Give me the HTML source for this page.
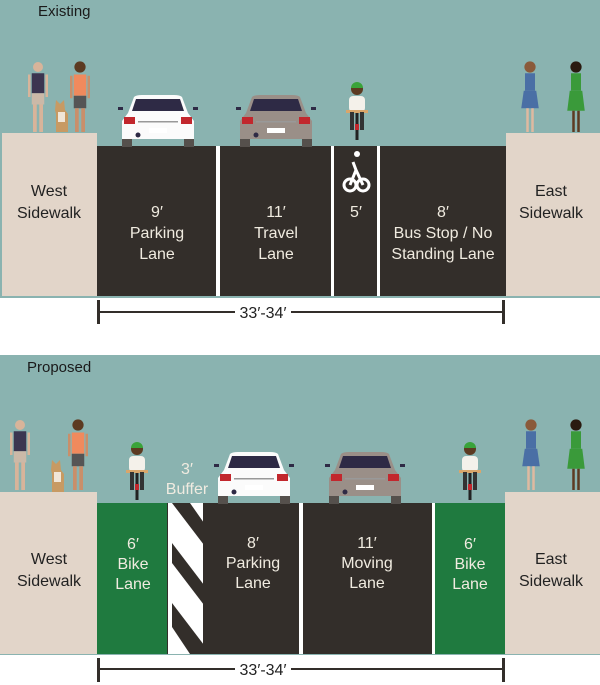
<!DOCTYPE html>
<html><head><style>
html,body{margin:0;padding:0;background:#fff;width:600px;height:685px;overflow:hidden}
svg{display:block}
text{font-family:"Liberation Sans",sans-serif}
</style></head><body>
<svg width="600" height="685" viewBox="0 0 600 685" xmlns="http://www.w3.org/2000/svg">
<defs>
<g id="car">
  <rect x="0" y="42" width="10" height="10" fill="#55504c"/>
  <rect x="62" y="42" width="10" height="10" fill="#55504c"/>
  <path d="M12 2 Q14 0 20 0 L52 0 Q58 0 60 2 L66 18 L72 26 L72 44 L0 44 L0 26 L6 18 Z"/>
  <path d="M14 4 L58 4 L62 16 L10 16 Z" fill="#2e2a45"/>
  <rect x="-4" y="12" width="5" height="3" fill="#2e2a45"/>
  <rect x="71" y="12" width="5" height="3" fill="#2e2a45"/>
  <rect x="2" y="22" width="11" height="7" fill="#c2272d"/>
  <rect x="59" y="22" width="11" height="7" fill="#c2272d"/>
  <rect x="16" y="26" width="40" height="1.5" fill="#999"/>
  <rect x="27" y="33" width="18" height="5" fill="#fff"/>
  <circle cx="16" cy="40" r="2.5" fill="#2e2a45"/>
</g>
<g id="cyc">
  <rect x="-1.5" y="30" width="3" height="28" fill="#222"/>
  <rect x="-8" y="14" width="16" height="16" rx="4" fill="#f4f1ea"/>
  <rect x="-11" y="28" width="22" height="3" fill="#d9a66b"/>
  <rect x="-7" y="30" width="4" height="18" fill="#333"/>
  <rect x="3" y="30" width="4" height="18" fill="#333"/>
  <circle cx="0" cy="7" r="6" fill="#5c3a21"/>
  <path d="M-6 6 A6 6 0 0 1 6 6 Z" fill="#3aa33a"/>
  <rect x="-2" y="42" width="4" height="6" fill="#c2272d"/>
</g>
<g id="walker1">
  <circle cx="0" cy="4" r="4" fill="#d8b49a"/>
  <rect x="-5" y="9" width="10" height="16" fill="#3c3550"/>
  <rect x="-5" y="25" width="10" height="9" fill="#cbb9a8"/>
  <rect x="-4" y="34" width="3" height="22" fill="#d8b49a"/>
  <rect x="1" y="34" width="3" height="22" fill="#d8b49a"/>
  <rect x="-8" y="10" width="2" height="18" fill="#d8b49a"/>
  <rect x="6" y="10" width="2" height="18" fill="#d8b49a"/>
</g>
<g id="walker2">
  <circle cx="0" cy="4" r="4.5" fill="#5c3a21"/>
  <rect x="-5" y="10" width="10" height="17" fill="#f08a5d"/>
  <rect x="-5" y="27" width="10" height="10" fill="#555"/>
  <rect x="-4" y="37" width="3" height="19" fill="#c98f6a"/>
  <rect x="1" y="37" width="3" height="19" fill="#c98f6a"/>
  <rect x="-8" y="11" width="2" height="18" fill="#c98f6a"/>
  <rect x="6" y="11" width="2" height="18" fill="#c98f6a"/>
</g>
<g id="dog">
  <path d="M0 0 L4 4 L8 0 L9 10 L12 14 L12 32 L0 32 L0 14 L-1 10 Z" fill="#c79a63"/>
  <rect x="2" y="12" width="7" height="10" fill="#f0e6d8"/>
</g>
<g id="woman1">
  <circle cx="0" cy="4" r="4.5" fill="#8a5a3a"/>
  <rect x="-4" y="9" width="8" height="14" fill="#4a6fa5"/>
  <path d="M-5 23 L5 23 L7 37 L-7 37 Z" fill="#4a6fa5"/>
  <rect x="-3" y="37" width="2" height="19" fill="#e0b9a0"/>
  <rect x="1" y="37" width="2" height="19" fill="#e0b9a0"/>
</g>
<g id="woman2">
  <circle cx="0" cy="4" r="4.5" fill="#2a1a10"/>
  <rect x="-4" y="9" width="8" height="14" fill="#3a9a3a"/>
  <path d="M-5 23 L5 23 L7 39 L-7 39 Z" fill="#3a9a3a"/>
  <rect x="-3" y="39" width="2" height="17" fill="#5c3a21"/>
  <rect x="1" y="39" width="2" height="17" fill="#5c3a21"/>
</g>
</defs>

<!-- TOP PANEL -->
<rect x="0" y="0" width="600" height="298" fill="#8ab3b0"/>
<text x="38" y="16" font-size="15" fill="#1a1a1a">Existing</text>
<rect x="2" y="133" width="95" height="163" fill="#e2d5c9"/>
<rect x="506" y="133" width="94" height="163" fill="#e2d5c9"/>
<rect x="97" y="146" width="409" height="150" fill="#332e2a"/>
<rect x="216" y="146" width="4" height="150" fill="#fff"/>
<rect x="331" y="146" width="3" height="150" fill="#fff"/>
<rect x="377" y="146" width="3" height="150" fill="#fff"/>
<!-- bike symbol -->
<g fill="none" stroke="#fff" stroke-width="3">
<circle cx="350" cy="185" r="6"/><circle cx="363" cy="185" r="6"/>
<path d="M350 185 L356 170 L363 185 M356 170 L353 162"/>
</g>
<circle cx="357" cy="154" r="3" fill="#fff"/>
<use href="#car" x="122" y="95" fill="#fbfbfb"/>
<use href="#car" x="240" y="95" fill="#9a8f88"/>
<use href="#cyc" x="357" y="82"/>
<g transform="translate(38,62) scale(1.25)"><use href="#walker1"/></g>
<g transform="translate(80,62) scale(1.25)"><use href="#walker2"/></g>
<use href="#dog" x="56" y="100"/>
<g transform="translate(530,62) scale(1.25)"><use href="#woman1"/></g>
<g transform="translate(576,62) scale(1.25)"><use href="#woman2"/></g>
<g font-size="16" fill="#f0ebe0" text-anchor="middle">
<text x="49" y="196" fill="#222">West</text><text x="49" y="218" fill="#222">Sidewalk</text>
<text x="551" y="196" fill="#222">East</text><text x="551" y="218" fill="#222">Sidewalk</text>
<text x="157" y="217">9′</text><text x="157" y="238">Parking</text><text x="157" y="259">Lane</text>
<text x="276" y="217">11′</text><text x="276" y="238">Travel</text><text x="276" y="259">Lane</text>
<text x="356" y="217">5′</text>
<text x="443" y="217">8′</text><text x="443" y="238">Bus Stop / No</text><text x="443" y="259">Standing Lane</text>
</g>
<!-- dimension top -->
<rect x="97" y="300" width="3" height="24" fill="#332e2a"/>
<rect x="502" y="300" width="3" height="24" fill="#332e2a"/>
<rect x="97" y="311" width="138" height="2" fill="#332e2a"/>
<rect x="291" y="311" width="212" height="2" fill="#332e2a"/>
<text x="263" y="318" font-size="16" fill="#222" text-anchor="middle">33′-34′</text>

<!-- BOTTOM PANEL -->
<rect x="0" y="355" width="600" height="300" fill="#8ab3b0"/>
<text x="27" y="372" font-size="15" fill="#1a1a1a">Proposed</text>
<rect x="0" y="492" width="97" height="162" fill="#e2d5c9"/>
<rect x="505" y="492" width="95" height="162" fill="#e2d5c9"/>
<rect x="97" y="503" width="408" height="151" fill="#332e2a"/>
<rect x="97" y="503" width="70" height="151" fill="#1f7a3f"/>
<rect x="435" y="503" width="70" height="151" fill="#1f7a3f"/>
<rect x="432" y="503" width="3" height="151" fill="#fff"/>
<rect x="299" y="503" width="4" height="151" fill="#fff"/>
<!-- buffer -->
<svg x="168" y="503" width="39" height="151" viewBox="0 0 39 151">
<rect width="39" height="151" fill="#fff"/>
<g fill="#332e2a">
<polygon points="4,0 22,0 36,20 36,42"/>
<polygon points="4,40 36,82 36,102 4,60"/>
<polygon points="4,100 36,142 36,151 22,151 4,124"/>
</g>
<rect x="35" y="0" width="4" height="151" fill="#332e2a"/>
</svg>
<use href="#car" x="218" y="452" fill="#fbfbfb"/>
<use href="#car" x="329" y="452" fill="#9a8f88"/>
<use href="#cyc" x="137" y="442"/>
<use href="#cyc" x="470" y="442"/>
<g transform="translate(20,420) scale(1.25)"><use href="#walker1"/></g>
<g transform="translate(78,420) scale(1.25)"><use href="#walker2"/></g>
<use href="#dog" x="52" y="460"/>
<g transform="translate(531,420) scale(1.25)"><use href="#woman1"/></g>
<g transform="translate(576,420) scale(1.25)"><use href="#woman2"/></g>
<g font-size="16" fill="#f0ebe0" text-anchor="middle">
<text x="187" y="474">3′</text><text x="187" y="494">Buffer</text>
<text x="49" y="564" fill="#222">West</text><text x="49" y="586" fill="#222">Sidewalk</text>
<text x="551" y="564" fill="#222">East</text><text x="551" y="586" fill="#222">Sidewalk</text>
<text x="133" y="549">6′</text><text x="133" y="569">Bike</text><text x="133" y="589">Lane</text>
<text x="253" y="548">8′</text><text x="253" y="568">Parking</text><text x="253" y="588">Lane</text>
<text x="367" y="548">11′</text><text x="367" y="568">Moving</text><text x="367" y="588">Lane</text>
<text x="470" y="549">6′</text><text x="470" y="569">Bike</text><text x="470" y="589">Lane</text>
</g>
<!-- dimension bottom -->
<rect x="97" y="658" width="3" height="24" fill="#332e2a"/>
<rect x="502" y="658" width="3" height="24" fill="#332e2a"/>
<rect x="97" y="668" width="138" height="2" fill="#332e2a"/>
<rect x="291" y="668" width="212" height="2" fill="#332e2a"/>
<text x="263" y="675" font-size="16" fill="#222" text-anchor="middle">33′-34′</text>
</svg>
</body></html>
